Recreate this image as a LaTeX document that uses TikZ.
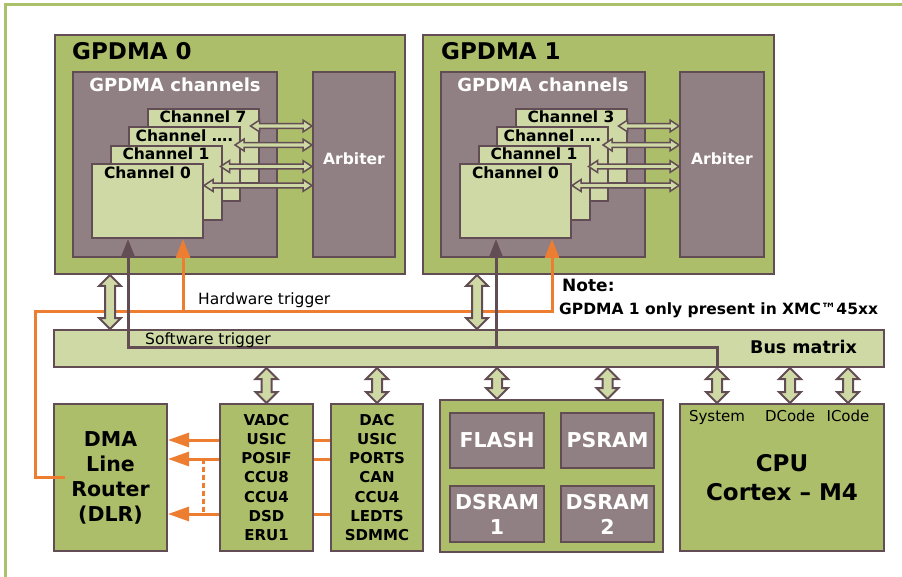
\documentclass[tikz,border=0pt]{standalone}
\usepackage{fontspec}
\setmainfont{DejaVu Sans}
\definecolor{xolive}{RGB}{173,190,106}
\definecolor{xlight}{RGB}{207,217,165}
\definecolor{xmauve}{RGB}{144,128,131}
\definecolor{xdark}{RGB}{98,77,84}
\definecolor{xorange}{RGB}{237,125,49}
\definecolor{xframe}{RGB}{171,193,105}
\usetikzlibrary{arrows.meta,positioning,calc}
\tikzset{
  blk/.style={rectangle,draw=xdark,line width=2pt,fill=#1,
    anchor=north west,inner sep=0pt},
  chbox/.style={blk=xlight,minimum width=111pt,minimum height=74pt},
  ttl/.style={font=\fontsize{23}{27}\selectfont\bfseries,inner sep=0pt,anchor=west},
  grptxt/.style={font=\fontsize{18}{22}\selectfont\bfseries,text=white,inner sep=0pt},
  chtxt/.style={font=\fontsize{15.5}{18}\selectfont\bfseries,inner sep=0pt},
  arbtxt/.style={font=\fontsize{15.5}{18}\selectfont\bfseries,text=white,inner sep=0pt},
  trigtxt/.style={font=\fontsize{15.5}{18}\selectfont,inner sep=0pt,anchor=base west},
  perbox/.style={blk=xolive,align=center,
    font=\fontsize{15}{19.3}\selectfont\bfseries},
  cellbox/.style={blk=xmauve,text=white,align=center,
    font=\fontsize{20.5}{25}\selectfont\bfseries},
  smarr/.style={draw=xdark,fill=xlight,line width=1.5pt},
  fatarr/.style={draw=xdark,fill=xlight,line width=2pt},
  swline/.style={draw=xdark,line width=3pt},
  hwline/.style={draw=xorange,line width=3pt},
  dlrline/.style={draw=xorange,line width=3pt},
  trigtip/.style={-{Triangle[length=19pt,width=14pt]}},
  dlrtip/.style={-{Triangle[length=21pt,width=14pt]}},
  outerframe/.style={draw=xframe,line width=2.5pt},
}
% thin two-headed arrow, channel -> arbiter
\newcommand{\hdarrow}[2]{%
  \draw[smarr] let \p1=(#1), \p2=(#2) in
    (\x1,\y1) -- (\x1+9pt,\y1+5.9pt) -- (\x1+9pt,\y1+2.3pt)
    -- (\x2-9pt,\y1+2.3pt) -- (\x2-9pt,\y1+5.9pt) -- (\x2,\y1)
    -- (\x2-9pt,\y1-5.9pt) -- (\x2-9pt,\y1-2.3pt)
    -- (\x1+9pt,\y1-2.3pt) -- (\x1+9pt,\y1-5.9pt) -- cycle;}
% fat two-headed arrow, top -> bottom
\newcommand{\vdarrow}[2]{%
  \draw[fatarr] let \p1=(#1), \p2=(#2) in
    (\x1,\y1) -- (\x1+11pt,\y1-11pt) -- (\x1+5pt,\y1-11pt)
    -- (\x1+5pt,\y2+11pt) -- (\x1+11pt,\y2+11pt) -- (\x1,\y2)
    -- (\x1-11pt,\y2+11pt) -- (\x1-5pt,\y2+11pt)
    -- (\x1-5pt,\y1-11pt) -- (\x1-11pt,\y1-11pt) -- cycle;}

\begin{document}
\begin{tikzpicture}[x=1pt,y=-1pt]
  \useasboundingbox (0,0) rectangle (902,577);
  \draw[outerframe] (5.5,577) |- (902,4.5);

  % GPDMA 0
  \node[blk=xolive,minimum width=350pt,minimum height=239pt] (g0) at (54,34) {};
  \node[ttl] (g0t) at (72,51.5) {GPDMA 0};
  \node[blk=xmauve,minimum width=204pt,minimum height=185pt] (grp0) at (72,71) {};
  \node[grptxt] (grp0t) at ($(grp0.north)+(0,14)$) {GPDMA channels};
  \node[blk=xmauve,minimum width=82pt,minimum height=185pt] (arb0) at (312,71) {};
  \node[arbtxt] (arb0t) at ($(arb0.center)+(0,-6)$) {Arbiter};
  \node[chbox] (c7a) at (146.5,108) {};
  \node[chtxt] (c7at) at ($(c7a.north)+(0,9)$) {Channel 7};
  \node[chbox] (cxa) at (128,126.5) {};
  \node[chtxt] (cxat) at ($(cxa.north)+(0,9)$) {Channel ….};
  \node[chbox] (c1a) at (109.5,145) {};
  \node[chtxt] (c1at) at ($(c1a.north)+(0,9)$) {Channel 1};
  \node[chbox] (c0a) at (91,163) {};
  \node[chtxt] (c0at) at ($(c0a.north)+(0,10)$) {Channel 0};

  \coordinate (a7a) at ($(c7a.north east)+(-9,18)$);
  \coordinate (axa) at ($(cxa.north east)+(-6,18.5)$);
  \coordinate (a1a) at ($(c1a.north east)+(-2,21.5)$);
  \coordinate (a0a) at ($(c0a.north east)+(0,22.5)$);
  \hdarrow{a7a}{a7a -| arb0.west}
  \hdarrow{axa}{axa -| arb0.west}
  \hdarrow{a1a}{a1a -| arb0.west}
  \hdarrow{a0a}{a0a -| arb0.west}

  % GPDMA 1
  \node[blk=xolive,minimum width=351pt,minimum height=239pt] (g1) at (422,34) {};
  \node[ttl] (g1t) at (441,51.5) {GPDMA 1};
  \node[blk=xmauve,minimum width=204pt,minimum height=185pt] (grp1) at (440,71) {};
  \node[grptxt] (grp1t) at ($(grp1.north)+(0,14)$) {GPDMA channels};
  \node[blk=xmauve,minimum width=84pt,minimum height=185pt] (arb1) at (679,71) {};
  \node[arbtxt] (arb1t) at ($(arb1.center)+(0,-6)$) {Arbiter};
  \node[chbox] (c3b) at (514.5,108) {};
  \node[chtxt] (c3bt) at ($(c3b.north)+(0,9)$) {Channel 3};
  \node[chbox] (cxb) at (496,126.5) {};
  \node[chtxt] (cxbt) at ($(cxb.north)+(0,9)$) {Channel ….};
  \node[chbox] (c1b) at (477.5,145) {};
  \node[chtxt] (c1bt) at ($(c1b.north)+(0,9)$) {Channel 1};
  \node[chbox] (c0b) at (459,163) {};
  \node[chtxt] (c0bt) at ($(c0b.north)+(0,10)$) {Channel 0};

  \coordinate (a3b) at ($(c3b.north east)+(-9,18)$);
  \coordinate (axb) at ($(cxb.north east)+(-6,18.5)$);
  \coordinate (a1b) at ($(c1b.north east)+(-2,21.5)$);
  \coordinate (a0b) at ($(c0b.north east)+(0,22.5)$);
  \hdarrow{a3b}{a3b -| arb1.west}
  \hdarrow{axb}{axb -| arb1.west}
  \hdarrow{a1b}{a1b -| arb1.west}
  \hdarrow{a0b}{a0b -| arb1.west}

  % note
  \node[font=\fontsize{17}{20}\selectfont\bfseries,inner sep=0pt,anchor=base west]
    (note) at (562,291.7) {Note:};
  \node[font=\fontsize{15.5}{18}\selectfont\bfseries,inner sep=0pt,anchor=base west]
    (notet) at (559,314) {GPDMA 1 only present in XMC™45xx};

  % bus matrix
  \node[blk=xlight,minimum width=830pt,minimum height=37pt] (bm) at (53,329) {};
  \node[font=\fontsize{17.5}{20}\selectfont\bfseries,inner sep=0pt,anchor=base east]
    (bmt) at (857,353.3) {Bus matrix};

  % bottom row
  \node[perbox,minimum width=113pt,minimum height=147pt,
    font=\fontsize{20.5}{25}\selectfont\bfseries] (dlr) at (53,403)
    {DMA\\Line\\Router\\(DLR)};
  \node[perbox,minimum width=93pt,minimum height=147pt] (pa) at (219,403)
    {VADC\\USIC\\POSIF\\CCU8\\CCU4\\DSD\\ERU1};
  \node[perbox,minimum width=92pt,minimum height=147pt] (pb) at (330,403)
    {DAC\\USIC\\PORTS\\CAN\\CCU4\\LEDTS\\SDMMC};
  \node[blk=xolive,minimum width=223pt,minimum height=152pt] (mem) at (439,399) {};
  \node[cellbox,minimum width=94pt,minimum height=55pt] (fl) at (449,412) {FLASH};
  \node[cellbox,minimum width=93pt,minimum height=55pt] (ps) at (560,412) {PSRAM};
  \node[cellbox,minimum width=94pt,minimum height=56pt] (d1) at (449,485) {DSRAM\\1};
  \node[cellbox,minimum width=93pt,minimum height=56pt] (d2) at (560,485) {DSRAM\\2};
  \node[blk=xolive,minimum width=204pt,minimum height=147pt,align=center,
    font=\fontsize{23}{29}\selectfont\bfseries] (cpu) at (679,403)
    {CPU\\Cortex – M4};
  \node[font=\fontsize{15}{18}\selectfont,inner sep=0pt,anchor=base] (sys) at (717,421) {System};
  \node[font=\fontsize{15}{18}\selectfont,inner sep=0pt,anchor=base] (dco) at (790,421) {DCode};
  \node[font=\fontsize{15}{18}\selectfont,inner sep=0pt,anchor=base] (ico) at (848,421) {ICode};

  % hardware trigger
  \coordinate (hw0) at ($(c0a.south west)+(92,0)$);
  \coordinate (hw1) at ($(c0b.south west)+(93,0)$);
  \coordinate (hwc) at (35,311);
  \draw[hwline,trigtip] ($(dlr.west)+(12,0)$) -| (hwc) -| (hw1);
  \draw[hwline,trigtip] (hw0 |- hwc) -- (hw0);
  \node[trigtxt] (hwt) at (198,305) {Hardware trigger};

  % software trigger
  \coordinate (sw0) at ($(c0a.south west)+(37,0)$);
  \coordinate (sw1) at ($(c0b.south west)+(37,0)$);
  \coordinate (swl) at ($(sw0 |- bm.center)+(0,-1)$);
  \draw[swline,trigtip] (sys |- bm.south) |- (swl) -- (sw0);
  \draw[swline,trigtip] (sw1 |- swl) -- (sw1);
  \node[trigtxt] (swt) at (145,344) {Software trigger};

  % DMA requests to the DLR
  \coordinate (r1) at ($(dlr.east)+(0,-37.5)$);
  \coordinate (r2) at ($(dlr.east)+(0,-18.5)$);
  \coordinate (r3) at ($(dlr.east)+(0,36.5)$);
  \draw[dlrline,dlrtip] (pa.west |- r1) -- (r1);
  \draw[dlrline,dlrtip] (pa.west |- r2) -- (r2);
  \draw[dlrline,dlrtip] (pa.west |- r3) -- (r3);
  \draw[dlrline] (pb.west |- r1) -- (pa.east |- r1);
  \draw[dlrline] (pb.west |- r2) -- (pa.east |- r2);
  \draw[dlrline] (pb.west |- r3) -- (pa.east |- r3);
  \draw[dlrline,dash pattern=on 5pt off 3pt] ($(r2)+(35,0)$) -- ($(r3)+(35,0)$);

  % bus connections
  \coordinate (v0) at ($(g0.south west)+(56,0)$);
  \coordinate (v1) at ($(g1.south west)+(55,0)$);
  \vdarrow{v0}{v0 |- bm.north}
  \vdarrow{v1}{v1 |- bm.north}
  \vdarrow{bm.south -| pa}{pa.north}
  \vdarrow{bm.south -| pb}{pb.north}
  \vdarrow{bm.south -| fl}{mem.north -| fl}
  \vdarrow{bm.south -| ps}{mem.north -| ps}
  \vdarrow{bm.south -| sys}{cpu.north -| sys}
  \vdarrow{bm.south -| dco}{cpu.north -| dco}
  \vdarrow{bm.south -| ico}{cpu.north -| ico}
\end{tikzpicture}
\end{document}
